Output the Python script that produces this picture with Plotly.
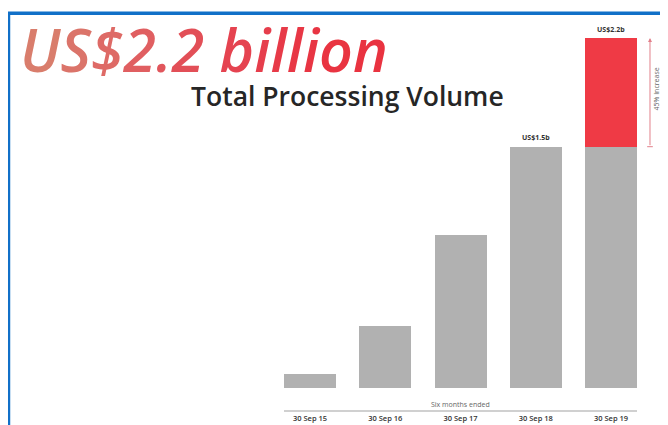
import plotly.graph_objects as go

# ---- data ----
periods = ["30 Sep 15", "30 Sep 16", "30 Sep 17", "30 Sep 18", "30 Sep 19"]
base_values = [0.09, 0.385, 0.95, 1.5, 1.5]      # US$ billions (grey part)
increase_values = [0, 0, 0, 0, 0.675]            # US$ billions (red increase)
bar_labels = {"30 Sep 18": "US$1.5b", "30 Sep 19": "US$2.2b"}
headline = "US$2.2 billion"
subtitle = "Total Processing Volume"
xaxis_title = "Six months ended"
increase_text = "45% Increase"

GREY = "#b1b1b1"
RED = "#ef3a45"

W, H = 660, 417
M_L, M_R, M_T, M_B = 276, 31, 10, 14
Y_DOMAIN = [0.0585, 1]
Y_RANGE = [0, 2.30]
px_per_unit = (H - M_T - M_B) * (Y_DOMAIN[1] - Y_DOMAIN[0]) / (Y_RANGE[1] - Y_RANGE[0])

fig = go.Figure()
fig.add_trace(go.Bar(x=periods, y=base_values, marker=dict(color=GREY, line=dict(width=0)),
                     hoverinfo="skip"))
fig.add_trace(go.Bar(x=periods, y=increase_values, marker=dict(color=RED, line=dict(width=0)),
                     hoverinfo="skip"))

totals = [b + i for b, i in zip(base_values, increase_values)]

annotations = []
# value labels above bars
for p, t in zip(periods, totals):
    if p in bar_labels:
        annotations.append(dict(x=p, y=t, yshift=9, text="<b>" + bar_labels[p] + "</b>",
                                showarrow=False, font=dict(size=7, color="#333333")))

# increase arrow (right of the last bar)
ARROW_X = 1.0368
annotations.append(dict(xref="paper", yref="y", x=ARROW_X, y=totals[-1],
                        axref="pixel", ayref="pixel", ax=0,
                        ay=(totals[-1] - base_values[-1]) * px_per_unit,
                        text="", showarrow=True, arrowhead=2, arrowsize=0.8,
                        arrowwidth=1, arrowcolor="#e2808a", standoff=0))
annotations.append(dict(xref="paper", yref="y", x=1.073, xanchor="right", yanchor="middle",
                        y=(totals[-1] + base_values[-1]) / 2 + 0.02,
                        text=increase_text, textangle=-90, showarrow=False,
                        font=dict(size=7, color="#666666")))

# x axis caption (between baseline and axis line)
annotations.append(dict(x=2, xref="x", yref="paper", y=0.0178, yanchor="middle",
                        text=xaxis_title, showarrow=False,
                        font=dict(size=7, color="#666666")))

# headline with gradient colouring
grad = ["#d97d6c", "#db746a", "#de6a66", "#e05f61", "#e1565c", "#e24f57", "#e44a54",
        "#e54350", "#e63e4c", "#e73a48", "#e83745", "#e83543", "#e93441", "#e93340"]
head_html = "".join('<span style="color:%s">%s</span>' % (grad[i % len(grad)], ch)
                    for i, ch in enumerate(headline))
annotations.append(dict(xref="paper", yref="paper", x=-0.7535, y=0.92,
                        xanchor="left", yanchor="middle", text=head_html, showarrow=False,
                        font=dict(size=59, family="Open Sans", style="italic", weight=600)))
annotations.append(dict(xref="paper", yref="paper", x=0.1785, y=0.802,
                        xanchor="center", yanchor="middle", text=subtitle, showarrow=False,
                        font=dict(size=26.5, family="Open Sans", weight=600, color="#262626")))

# blue frame and small tick at the foot of the arrow
shapes = [dict(type="rect", xref="paper", yref="paper", x0=-0.7805, x1=1.15,
               y0=-0.1, y1=1.012, line=dict(color="#1170c8", width=3.5),
               fillcolor="rgba(0,0,0,0)", layer="above"),
          dict(type="line", xref="paper", yref="y", x0=ARROW_X - 0.008, x1=ARROW_X + 0.008,
               y0=base_values[-1], y1=base_values[-1], line=dict(color="#e2808a", width=1))]

half = 0.3455
fig.update_layout(
    width=W, height=H, autosize=False,
    margin=dict(l=M_L, r=M_R, t=M_T, b=M_B, pad=0),
    paper_bgcolor="white", plot_bgcolor="white",
    barmode="stack", bargap=0.309, showlegend=False,
    font=dict(family="Open Sans"),
    xaxis=dict(type="category", range=[-half, len(periods) - 1 + half],
               anchor="free", position=0, showline=True, linecolor="#d0d0d0", linewidth=1.5,
               showgrid=False, zeroline=False, ticks="", automargin=False,
               tickfont=dict(size=7.5, color="#333333", weight=600)),
    yaxis=dict(domain=Y_DOMAIN, range=Y_RANGE, visible=False, showgrid=False,
               zeroline=False),
    annotations=annotations, shapes=shapes,
)

fig.write_html("out.html")
